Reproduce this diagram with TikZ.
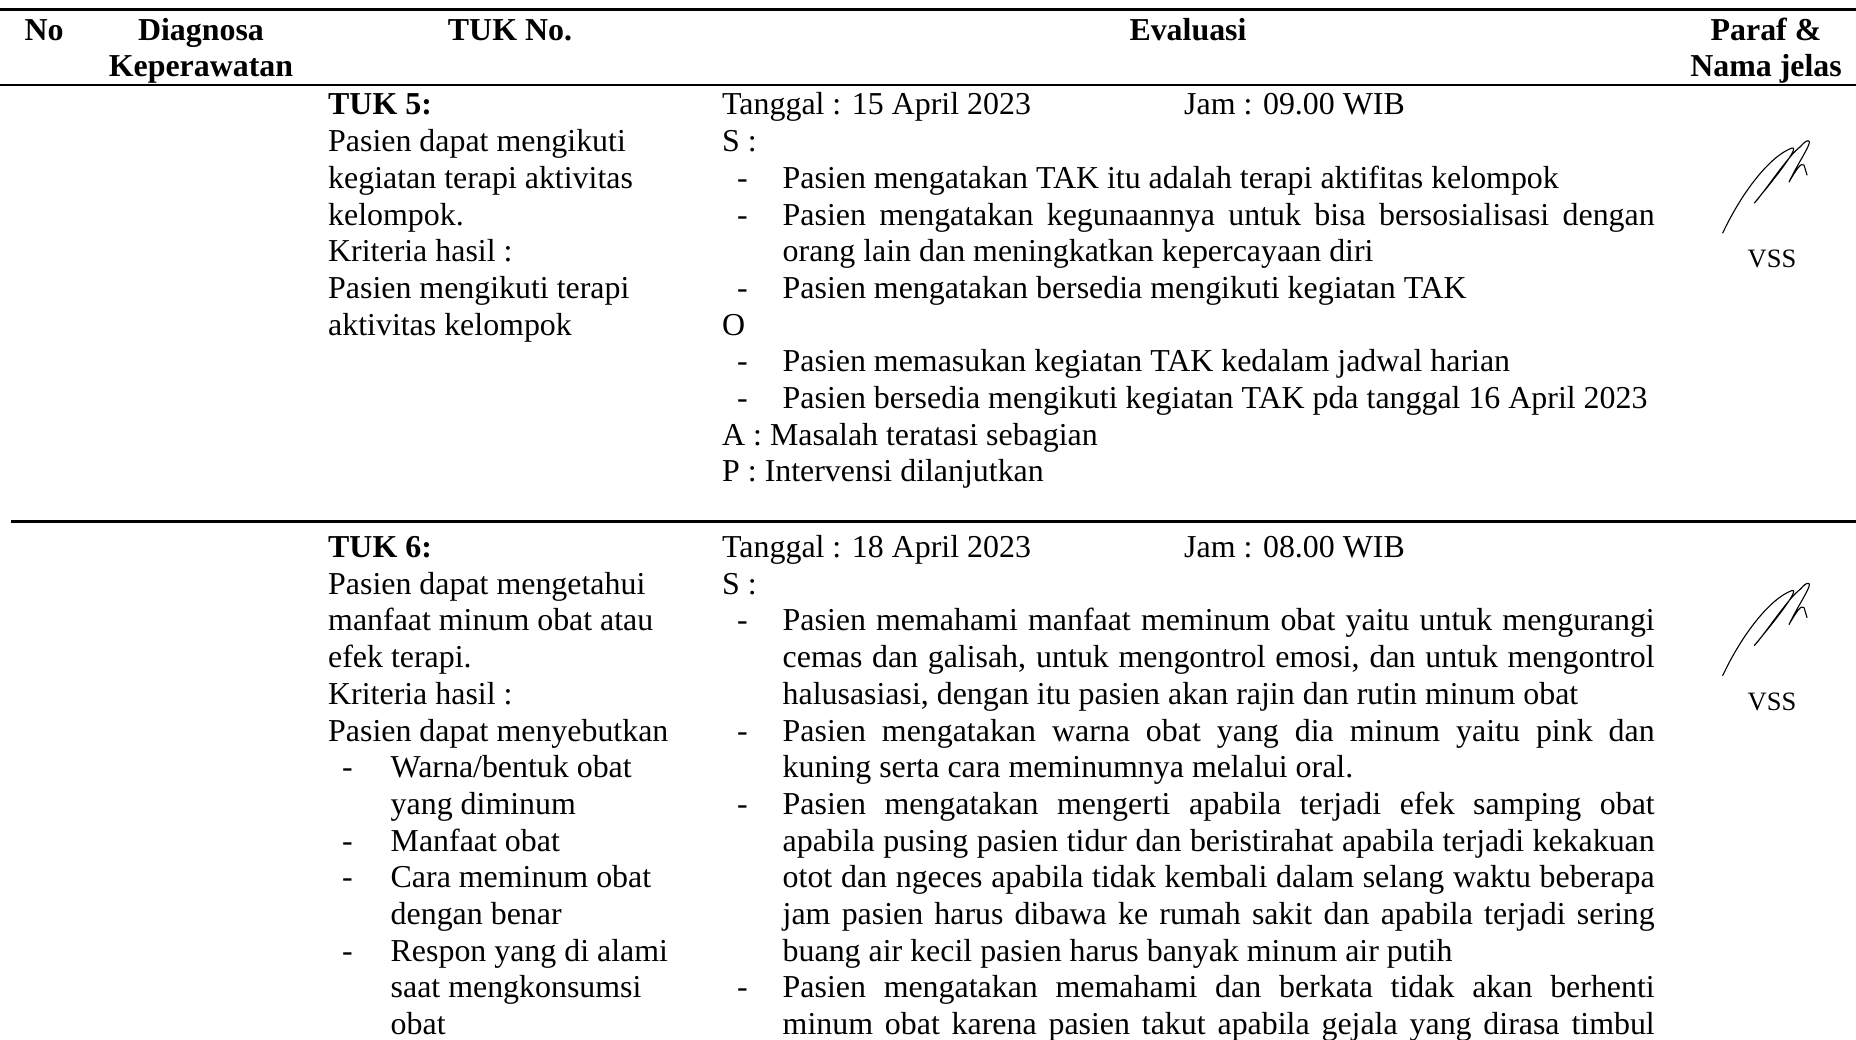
\documentclass[tikz,border=0pt]{standalone}
\usepackage{fontspec}
\setmainfont{Liberation Serif}
\newcommand\bodyfont{\fontsize{31.9}{36.7}\selectfont}
\newcommand\jline[1]{\makebox[872pt][s]{#1}}
\tikzset{
  txt/.style={anchor=base west, inner sep=0pt, font=\bodyfont},
  bld/.style={anchor=base west, inner sep=0pt, font=\bodyfont\bfseries},
  hdr/.style={anchor=base, inner sep=0pt, font=\bodyfont\bfseries},
  rulestyle/.style={line width=2.5pt},
  sig/.style={line width=1.1pt, line cap=round, line join=round},
  vss/.style={anchor=base, inner sep=0pt, font=\fontsize{26.5}{30}\selectfont}
}
\newcommand\sigdraw{%
  \draw[sig] (1722.7,233) .. controls (1742,192) and (1770,156) .. (1792,148)
    .. controls (1799,146) and (1783,168) .. (1765,190)
    .. controls (1756,201) and (1751,207) .. (1757,200)
    .. controls (1770,184) and (1790,154) .. (1800,147)
    .. controls (1804,143) and (1806,140) .. (1809,141)
    .. controls (1812,143) and (1798,163) .. (1789,182)
    .. controls (1796,170) and (1801,162) .. (1804,165)
    -- (1807,175);}
\begin{document}
\begin{tikzpicture}[x=1pt,y=-1pt]
\fill[white] (0,0) rectangle (1856,1040);
\useasboundingbox (0,0) rectangle (1856,1040);
% rules
\draw[rulestyle] (0,9.5) -- (1856,9.5);
\draw[rulestyle] (0,85) -- (1856,85);
\draw[rulestyle] (11,521.5) -- (1856,521.5);
% header
\node[hdr] (hno) at (44,41) {No};
\node[hdr] (hdg1) at (201,41) {Diagnosa};
\node[hdr] (hdg2) at (201,77) {Keperawatan};
\node[hdr] (htuk) at (510,41) {TUK No.};
\node[hdr] (hev) at (1188,41) {Evaluasi};
\node[hdr] (hp1) at (1766,41) {Paraf \&};
\node[hdr] (hp2) at (1766,77) {Nama jelas};
% row 1 TUK
\node[bld] (a0) at (328,115) {TUK 5:};
\node[txt] (a1) at (328,151.7) {Pasien dapat mengikuti};
\node[txt] (a2) at (328,188.4) {kegiatan terapi aktivitas};
\node[txt] (a3) at (328,225.1) {kelompok.};
\node[txt] (a4) at (328,261.8) {Kriteria hasil :};
\node[txt] (a5) at (328,298.5) {Pasien mengikuti terapi};
\node[txt] (a6) at (328,335.2) {aktivitas kelompok};
% row 1 evaluasi
\node[txt] (b0) at (722,115) {Tanggal : 15 April 2023};
\node[txt] (b0j) at (1184,115) {Jam : 09.00 WIB};
\node[txt] (b1) at (722,151.7) {S :};
\node[txt] (b2d) at (737,188.4) {-};
\node[txt] (b2) at (782.5,188.4) {Pasien mengatakan TAK itu adalah terapi aktifitas kelompok};
\node[txt] (b3d) at (737,225.1) {-};
\node[txt] (b3) at (782.5,225.1) {\jline{Pasien mengatakan kegunaannya untuk bisa bersosialisasi dengan}};
\node[txt] (b4) at (782.5,261.8) {orang lain dan meningkatkan kepercayaan diri};
\node[txt] (b5d) at (737,298.5) {-};
\node[txt] (b5) at (782.5,298.5) {Pasien mengatakan bersedia mengikuti kegiatan TAK};
\node[txt] (b6) at (722,335.2) {O};
\node[txt] (b7d) at (737,371.9) {-};
\node[txt] (b7) at (782.5,371.9) {Pasien memasukan kegiatan TAK kedalam jadwal harian};
\node[txt] (b8d) at (737,408.6) {-};
\node[txt] (b8) at (782.5,408.6) {Pasien bersedia mengikuti kegiatan TAK pda tanggal 16 April 2023};
\node[txt] (b9) at (722,445.3) {A : Masalah teratasi sebagian};
\node[txt] (b10) at (722,482) {P : Intervensi dilanjutkan};
% row 1 paraf
\sigdraw
\node[vss] (v1) at (1772,268) {VSS};
% row 2 TUK
\node[bld] (c0) at (328,557.5) {TUK 6:};
\node[txt] (c1) at (328,594.2) {Pasien dapat mengetahui};
\node[txt] (c2) at (328,630.9) {manfaat minum obat atau};
\node[txt] (c3) at (328,667.6) {efek terapi.};
\node[txt] (c4) at (328,704.3) {Kriteria hasil :};
\node[txt] (c5) at (328,741) {Pasien dapat menyebutkan};
\node[txt] (c6d) at (342,777.7) {-};
\node[txt] (c6) at (390.5,777.7) {Warna/bentuk obat};
\node[txt] (c7) at (390.5,814.4) {yang diminum};
\node[txt] (c8d) at (342,851.1) {-};
\node[txt] (c8) at (390.5,851.1) {Manfaat obat};
\node[txt] (c9d) at (342,887.8) {-};
\node[txt] (c9) at (390.5,887.8) {Cara meminum obat};
\node[txt] (c10) at (390.5,924.5) {dengan benar};
\node[txt] (c11d) at (342,961.2) {-};
\node[txt] (c11) at (390.5,961.2) {Respon yang di alami};
\node[txt] (c12) at (390.5,997.9) {saat mengkonsumsi};
\node[txt] (c13) at (390.5,1034.6) {obat};
% row 2 evaluasi
\node[txt] (d0) at (722,557.5) {Tanggal : 18 April 2023};
\node[txt] (d0j) at (1184,557.5) {Jam : 08.00 WIB};
\node[txt] (d1) at (722,594.2) {S :};
\node[txt] (d2d) at (737,630.9) {-};
\node[txt] (d2) at (782.5,630.9) {\jline{Pasien memahami manfaat meminum obat yaitu untuk mengurangi}};
\node[txt] (d3) at (782.5,667.6) {\jline{cemas dan galisah, untuk mengontrol emosi, dan untuk mengontrol}};
\node[txt] (d4) at (782.5,704.3) {halusasiasi, dengan itu pasien akan rajin dan rutin minum obat};
\node[txt] (d5d) at (737,741) {-};
\node[txt] (d5) at (782.5,741) {\jline{Pasien mengatakan warna obat yang dia minum yaitu pink dan}};
\node[txt] (d6) at (782.5,777.7) {kuning serta cara meminumnya melalui oral.};
\node[txt] (d7d) at (737,814.4) {-};
\node[txt] (d7) at (782.5,814.4) {\jline{Pasien mengatakan mengerti apabila terjadi efek samping obat}};
\node[txt] (d8) at (782.5,851.1) {\jline{apabila pusing pasien tidur dan beristirahat apabila terjadi kekakuan}};
\node[txt] (d9) at (782.5,887.8) {\jline{otot dan ngeces apabila tidak kembali dalam selang waktu beberapa}};
\node[txt] (d10) at (782.5,924.5) {\jline{jam pasien harus dibawa ke rumah sakit dan apabila terjadi sering}};
\node[txt] (d11) at (782.5,961.2) {buang air kecil pasien harus banyak minum air putih};
\node[txt] (d12d) at (737,997.9) {-};
\node[txt] (d12) at (782.5,997.9) {\jline{Pasien mengatakan memahami dan berkata tidak akan berhenti}};
\node[txt] (d13) at (782.5,1034.6) {\jline{minum obat karena pasien takut apabila gejala yang dirasa timbul}};
% row 2 paraf
\begin{scope}[shift={(0,442.5)}]
\sigdraw
\end{scope}
\node[vss] (v2) at (1772,710.5) {VSS};
\end{tikzpicture}
\end{document}
